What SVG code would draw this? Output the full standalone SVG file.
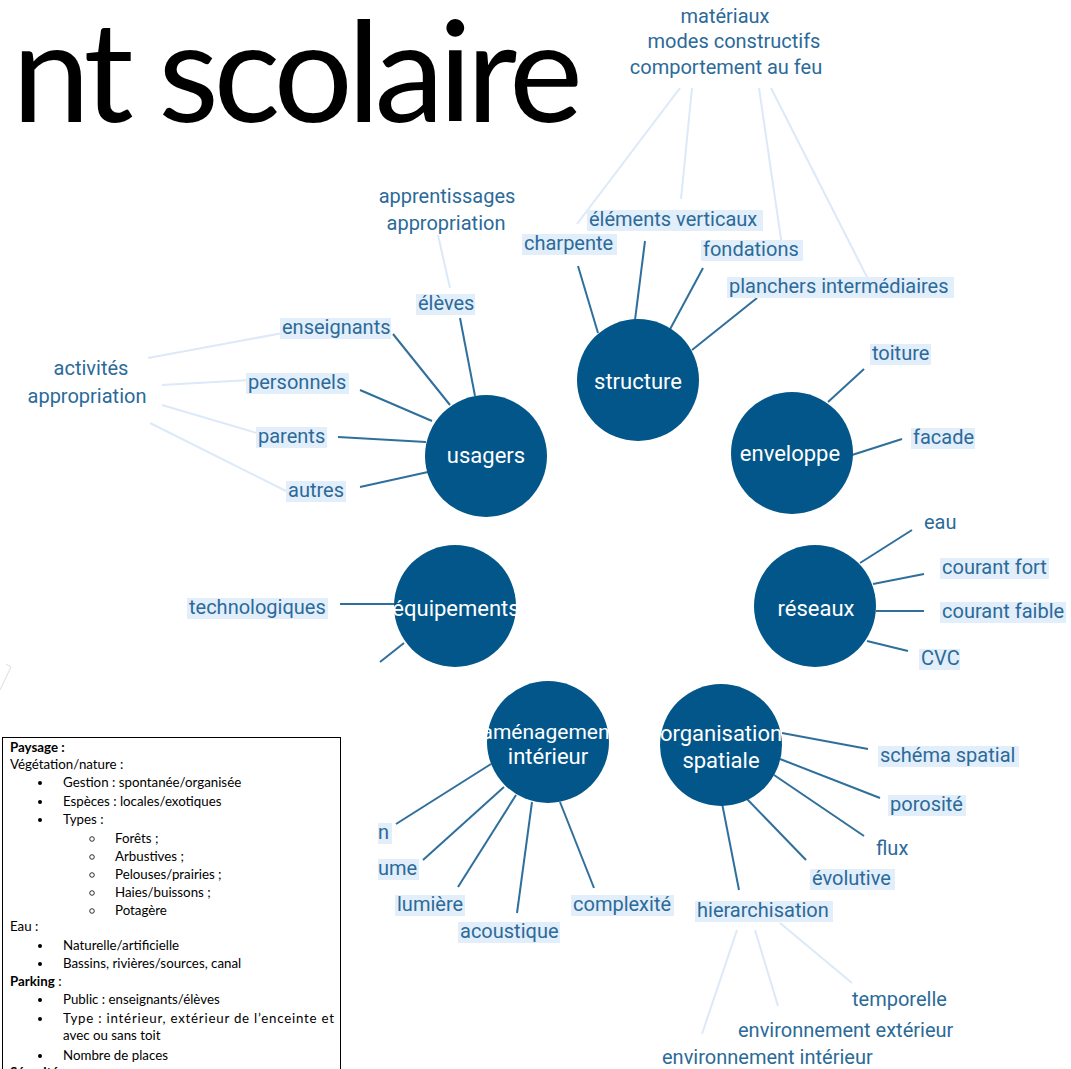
<svg xmlns="http://www.w3.org/2000/svg" width="1071" height="1069" viewBox="0 0 1071 1069">
<style>
.title{font-family:Lato,"Open Sans",sans-serif;font-size:140px;fill:#000}
.lbl{font-family:Roboto,"Noto Sans",sans-serif;font-size:20px;fill:#2b6a99}
.mid{text-anchor:middle}
.hl{fill:#e3eefb}
.node circle{fill:#03568a}
.node text{font-family:Roboto,"Noto Sans",sans-serif;font-size:22px;fill:#fff;text-anchor:middle}
.edge line{stroke:#2f6f9c;stroke-width:2}
.faint line{stroke:#dce9f8;stroke-width:2}
.box text{font-family:Lato,"Liberation Sans",sans-serif;font-size:13.3px;fill:#000}
.box .b{font-weight:bold}
</style>
<rect width="1071" height="1069" fill="#fff"/>
<text class="title" y="122"><tspan x="-76">e</tspan><tspan x="12" textLength="571" lengthAdjust="spacing">nt scolaire</tspan></text>

<g id="faint-connectors" class="faint">
<line x1="680" y1="88" x2="577" y2="224"/>
<line x1="692" y1="88" x2="681" y2="199"/>
<line x1="759" y1="88" x2="782" y2="246"/>
<line x1="771" y1="88" x2="870" y2="283"/>
<line x1="438" y1="235" x2="450" y2="288"/>
<line x1="148" y1="358" x2="283" y2="333"/>
<line x1="162" y1="385" x2="250" y2="380"/>
<line x1="162" y1="405" x2="260" y2="434"/>
<line x1="150" y1="423" x2="290" y2="493"/>
<line x1="737" y1="930" x2="702" y2="1034"/>
<line x1="755" y1="930" x2="778" y2="1006"/>
<line x1="780" y1="923" x2="852" y2="983"/>
<path d="M0 690 L11 667 L6 664" fill="none" stroke="#dddddd" stroke-width="1"/>
</g>

<g id="connectors" class="edge">
<line x1="578" y1="266" x2="598" y2="333"/>
<line x1="645" y1="241" x2="635" y2="320"/>
<line x1="703" y1="268" x2="668" y2="333"/>
<line x1="757" y1="298" x2="692" y2="350"/>
<line x1="460" y1="318" x2="475" y2="396"/>
<line x1="393" y1="334" x2="450" y2="405"/>
<line x1="360" y1="390" x2="432" y2="421"/>
<line x1="338" y1="437" x2="426" y2="442"/>
<line x1="360" y1="487" x2="428" y2="472"/>
<line x1="864" y1="369" x2="828" y2="402"/>
<line x1="902" y1="439" x2="852" y2="455"/>
<line x1="912" y1="530" x2="860" y2="563"/>
<line x1="924" y1="574" x2="873" y2="584"/>
<line x1="924" y1="611" x2="876" y2="611"/>
<line x1="908" y1="651" x2="867" y2="641"/>
<line x1="340" y1="604" x2="398" y2="604"/>
<line x1="380" y1="662" x2="404" y2="643"/>
<line x1="396" y1="824" x2="491" y2="764"/>
<line x1="423" y1="860" x2="504" y2="787"/>
<line x1="458" y1="887" x2="516" y2="795"/>
<line x1="517" y1="913" x2="532" y2="802"/>
<line x1="594" y1="888" x2="560" y2="802"/>
<line x1="868" y1="749" x2="782" y2="733"/>
<line x1="880" y1="798" x2="780" y2="759"/>
<line x1="864" y1="836" x2="774" y2="775"/>
<line x1="806" y1="860" x2="747" y2="799"/>
<line x1="739" y1="890" x2="722" y2="803"/>
</g>

<g id="node-structure" class="node">
<circle cx="638" cy="380" r="61"/>
<text x="638" y="389">structure</text>
</g>
<g id="node-usagers" class="node">
<circle cx="486" cy="456" r="61"/>
<text x="486" y="463">usagers</text>
</g>
<g id="node-enveloppe" class="node">
<circle cx="792" cy="453" r="61"/>
<text x="790" y="461">enveloppe</text>
</g>
<g id="node-reseaux" class="node">
<circle cx="815" cy="606" r="61"/>
<text x="816" y="616">réseaux</text>
</g>
<g id="node-equipements" class="node">
<circle cx="455" cy="606" r="61"/>
<text x="456" y="616">équipements</text>
</g>
<g id="node-amenagement" class="node">
<circle cx="548" cy="742" r="61"/>
<text x="549" y="739" style="font-size:21px">aménagement</text>
<text x="548" y="764">intérieur</text>
</g>
<g id="node-organisation" class="node">
<circle cx="721" cy="745" r="61"/>
<text x="721" y="741">organisation</text>
<text x="721" y="768">spatiale</text>
</g>

<g id="labels-structure">
<rect class="hl" x="522" y="234" width="95" height="21"/><text class="lbl" x="524" y="250">charpente</text>
<rect class="hl" x="587" y="210" width="176" height="21"/><text class="lbl" x="589" y="226">éléments verticaux</text>
<rect class="hl" x="701" y="240" width="102" height="21"/><text class="lbl" x="703" y="256">fondations</text>
<rect class="hl" x="727" y="277" width="227" height="21"/><text class="lbl" x="729" y="293">planchers intermédiaires</text>
<text class="lbl mid" x="725" y="23">matériaux</text>
<text class="lbl mid" x="734" y="48">modes constructifs</text>
<text class="lbl mid" x="726" y="74">comportement au feu</text>
</g>
<g id="labels-usagers">
<text class="lbl mid" x="447" y="203">apprentissages</text>
<text class="lbl mid" x="446" y="230">appropriation</text>
<rect class="hl" x="416" y="294" width="59" height="21"/><text class="lbl" x="418" y="310">élèves</text>
<rect class="hl" x="280" y="318" width="111" height="21"/><text class="lbl" x="282" y="334">enseignants</text>
<rect class="hl" x="246" y="373" width="103" height="21"/><text class="lbl" x="248" y="389">personnels</text>
<rect class="hl" x="256" y="427" width="71" height="21"/><text class="lbl" x="258" y="443">parents</text>
<rect class="hl" x="286" y="481" width="60" height="21"/><text class="lbl" x="288" y="497">autres</text>
<text class="lbl mid" x="91" y="375">activités</text>
<text class="lbl mid" x="87" y="403">appropriation</text>
</g>
<g id="labels-enveloppe">
<rect class="hl" x="870" y="344" width="61" height="21"/><text class="lbl" x="872" y="360">toiture</text>
<rect class="hl" x="911" y="428" width="64" height="21"/><text class="lbl" x="913" y="444">facade</text>
</g>
<g id="labels-reseaux">
<text class="lbl" x="924" y="529">eau</text>
<rect class="hl" x="940" y="558" width="109" height="21"/><text class="lbl" x="942" y="574">courant fort</text>
<rect class="hl" x="940" y="602" width="126" height="21"/><text class="lbl" x="942" y="618">courant faible</text>
<rect class="hl" x="919" y="649" width="41" height="21"/><text class="lbl" x="921" y="665">CVC</text>
</g>
<g id="labels-equipements">
<rect class="hl" x="187" y="598" width="141" height="21"/><text class="lbl" x="189" y="614">technologiques</text>
</g>
<g id="labels-amenagement">
<rect class="hl" x="378" y="823" width="14" height="21"/><text class="lbl" x="378" y="839">n</text>
<rect class="hl" x="378" y="859" width="41" height="21"/><text class="lbl" x="378" y="875">ume</text>
<rect class="hl" x="395" y="895" width="70" height="21"/><text class="lbl" x="397" y="911">lumière</text>
<rect class="hl" x="458" y="922" width="102" height="21"/><text class="lbl" x="460" y="938">acoustique</text>
<rect class="hl" x="571" y="895" width="103" height="21"/><text class="lbl" x="573" y="911">complexité</text>
</g>
<g id="labels-organisation">
<rect class="hl" x="878" y="746" width="141" height="21"/><text class="lbl" x="880" y="762">schéma spatial</text>
<rect class="hl" x="888" y="795" width="78" height="21"/><text class="lbl" x="890" y="811">porosité</text>
<text class="lbl" x="876" y="855">flux</text>
<rect class="hl" x="810" y="869" width="85" height="21"/><text class="lbl" x="812" y="885">évolutive</text>
<rect class="hl" x="695" y="901" width="138" height="21"/><text class="lbl" x="697" y="917">hierarchisation</text>
<text class="lbl" x="852" y="1006">temporelle</text>
<text class="lbl" x="738" y="1037">environnement extérieur</text>
<text class="lbl" x="662" y="1064">environnement intérieur</text>
</g>

<g id="paysage-box" class="box">
<rect x="2.5" y="737.5" width="338" height="340" fill="#fff" stroke="#000" stroke-width="1"/>
<text class="b" x="10" y="752">Paysage :</text>
<text x="10" y="769">Végétation/nature :</text>
<circle cx="40" cy="783" r="2" fill="#000"/><text x="63" y="787">Gestion : spontanée/organisée</text>
<circle cx="40" cy="802" r="2" fill="#000"/><text x="63" y="806">Espèces : locales/exotiques</text>
<circle cx="40" cy="820" r="2" fill="#000"/><text x="63" y="824">Types :</text>
<circle cx="92" cy="839" r="2.3" fill="none" stroke="#000" stroke-width="0.8"/><text x="115" y="843">Forêts ;</text>
<circle cx="92" cy="857" r="2.3" fill="none" stroke="#000" stroke-width="0.8"/><text x="115" y="861">Arbustives ;</text>
<circle cx="92" cy="875" r="2.3" fill="none" stroke="#000" stroke-width="0.8"/><text x="115" y="879">Pelouses/prairies ;</text>
<circle cx="92" cy="893" r="2.3" fill="none" stroke="#000" stroke-width="0.8"/><text x="115" y="897">Haies/buissons ;</text>
<circle cx="92" cy="911" r="2.3" fill="none" stroke="#000" stroke-width="0.8"/><text x="115" y="915">Potagère</text>
<text x="10" y="931">Eau :</text>
<circle cx="40" cy="946" r="2" fill="#000"/><text x="63" y="950">Naturelle/artificielle</text>
<circle cx="40" cy="964" r="2" fill="#000"/><text x="63" y="968">Bassins, rivières/sources, canal</text>
<text x="10" y="986"><tspan class="b">Parking</tspan> :</text>
<circle cx="40" cy="1000" r="2" fill="#000"/><text x="63" y="1004">Public : enseignants/élèves</text>
<circle cx="40" cy="1019" r="2" fill="#000"/><text x="63" y="1023" textLength="271" lengthAdjust="spacing">Type : intérieur, extérieur de l’enceinte et</text>
<text x="63" y="1040">avec ou sans toit</text>
<circle cx="40" cy="1056" r="2" fill="#000"/><text x="63" y="1060">Nombre de places</text>
<text class="b" x="10" y="1077">Sécurité :</text>
</g>
</svg>
